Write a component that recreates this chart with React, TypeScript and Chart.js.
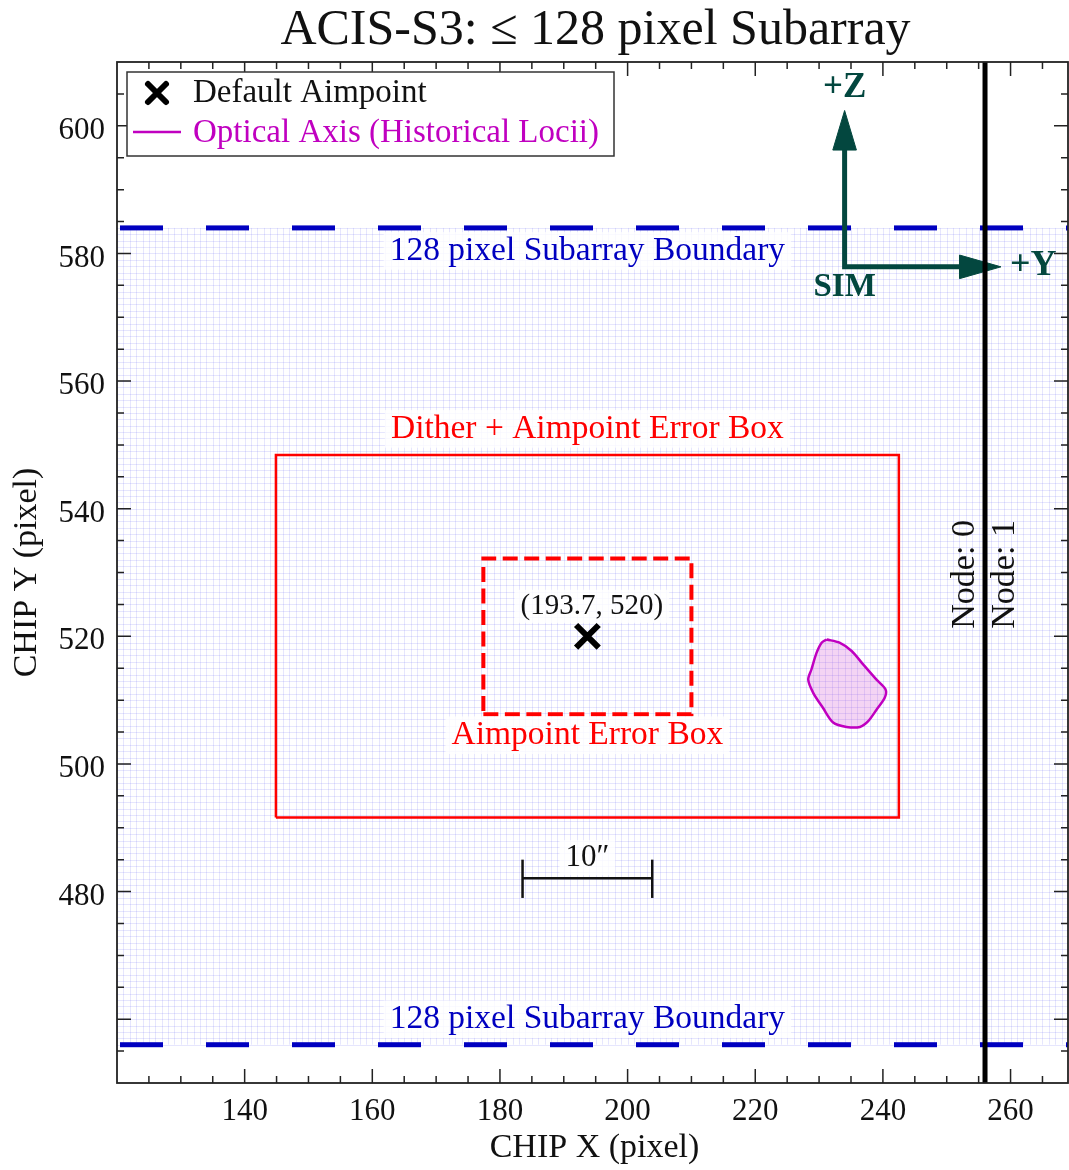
import React, { useEffect, useRef } from 'react';
import { Chart, registerables } from 'chart.js';

Chart.register(...registerables);

// ---------------- data ----------------
const X_MIN = 120;
const X_MAX = 269;
const Y_MIN = 450;
const Y_MAX = 610;
const X_MAJOR_TICKS = [140, 160, 180, 200, 220, 240, 260];
const X_TICK_LABELS = ['140', '160', '180', '200', '220', '240', '260'];
const Y_MAJOR_TICKS = [460, 480, 500, 520, 540, 560, 580, 600];
const Y_TICK_LABELS = ['', '480', '500', '520', '540', '560', '580', '600'];
const MINOR_STEP = 5;

const AIMPOINT_X = [193.7];
const AIMPOINT_Y = [520];
const SUBARRAY_Y = [456, 584];
const NODE_BOUNDARY_X = 256;
const DITHER_BOX_X = [144.9, 242.5];
const DITHER_BOX_Y = [491.6, 548.4];
const AIM_ERR_BOX_X = [177.4, 210.0];
const AIM_ERR_BOX_Y = [507.8, 532.2];
const OPTICAL_AXIS_X = [231.2, 233.2, 235.1, 236.9, 239.0, 240.4, 240.3, 239.0, 237.7, 236.4, 234.3, 232.2, 230.6, 229.1, 228.3, 228.8, 229.6, 230.4];
const OPTICAL_AXIS_Y = [519.5, 519.0, 517.7, 515.6, 513.2, 511.7, 510.4, 508.5, 506.7, 505.8, 505.8, 506.5, 508.8, 511.1, 513.2, 514.8, 517.4, 519.0];
const SCALE_BAR_X = [183.54, 203.86];
const SCALE_BAR_Y = [482.1];
const SCALE_BAR_CAP_Y = [479.0, 485.0];
const SIM_ORIGIN = [234.0, 577.9];
const SIM_Z_HEAD = [596.2, 602.4]; // base, tip (y)
const SIM_Y_HEAD = [252.0, 258.5]; // base, tip (x)
const HEAD_HALF_WIDTH = 1.85;

const TITLE = 'ACIS-S3: \u2264 128 pixel Subarray';
const X_TITLE = 'CHIP X (pixel)';
const Y_TITLE = 'CHIP Y (pixel)';
const LEGEND_LABELS = ['Default Aimpoint', 'Optical Axis (Historical Locii)'];

// ---------------- styles ----------------
const FONT = "'Liberation Serif', 'DejaVu Serif', serif";
const BLUE = '#0000c0';
const RED = '#ff0000';
const MAGENTA = '#c000c0';
const ARROW = '#03473f';
const AXIS_COLOR = '#222222';

const W = 1069;
const H = 1170;

type Pt = { x: number; y: number };
const pts = (xs: number[], ys: number[]): Pt[] => xs.map((x, i) => ({ x, y: ys[i] }));
const closed = (p: Pt[]): Pt[] => [...p, p[0]];
const box = (xs: number[], ys: number[]): Pt[] =>
  closed([
    { x: xs[0], y: ys[0] },
    { x: xs[1], y: ys[0] },
    { x: xs[1], y: ys[1] },
    { x: xs[0], y: ys[1] },
  ]);

function drawText(
  ctx: CanvasRenderingContext2D,
  text: string,
  x: number,
  y: number,
  o: { size: number; color: string; weight?: string; bg?: boolean; rotate?: number; align?: CanvasTextAlign }
) {
  ctx.save();
  ctx.translate(x, y);
  if (o.rotate) ctx.rotate(o.rotate);
  ctx.font = `${o.weight || 'normal'} ${o.size}px ${FONT}`;
  ctx.textAlign = o.align || 'center';
  ctx.textBaseline = 'middle';
  if (o.bg) {
    const w = ctx.measureText(text).width;
    const h = o.size * 1.0;
    const left = o.align === 'left' ? 0 : o.align === 'right' ? -w : -w / 2;
    ctx.fillStyle = 'rgba(255,255,255,0.82)';
    ctx.fillRect(left - 6, -h / 2 - 2, w + 12, h + 4);
  }
  ctx.fillStyle = o.color;
  ctx.fillText(text, 0, 0);
  ctx.restore();
}

const gridPlugin = {
  id: 'pixelGrid',
  beforeDatasetsDraw(chart: any) {
    const { ctx, chartArea: a, scales } = chart;
    const xs = scales.x;
    const ys = scales.y;
    ctx.save();
    ctx.beginPath();
    ctx.rect(a.left, a.top, a.right - a.left, a.bottom - a.top);
    ctx.clip();
    ctx.strokeStyle = 'rgba(100,100,240,0.16)';
    ctx.lineWidth = 1;
    const yTop = ys.getPixelForValue(SUBARRAY_Y[1]);
    const yBot = ys.getPixelForValue(SUBARRAY_Y[0]);
    ctx.beginPath();
    for (let v = Math.ceil(X_MIN); v <= X_MAX; v++) {
      const px = Math.round(xs.getPixelForValue(v)) + 0.5;
      ctx.moveTo(px, yTop);
      ctx.lineTo(px, yBot);
    }
    for (let v = SUBARRAY_Y[0]; v <= SUBARRAY_Y[1]; v++) {
      const py = Math.round(ys.getPixelForValue(v)) + 0.5;
      ctx.moveTo(a.left, py);
      ctx.lineTo(a.right, py);
    }
    ctx.stroke();
    ctx.restore();
  },
};

const decorPlugin = {
  id: 'decor',
  afterDatasetsDraw(chart: any) {
    const { ctx, scales } = chart;
    const xs = scales.x;
    const ys = scales.y;
    const X = (v: number) => xs.getPixelForValue(v);
    const Y = (v: number) => ys.getPixelForValue(v);
    const cx = (DITHER_BOX_X[0] + DITHER_BOX_X[1]) / 2;

    drawText(ctx, '128 pixel Subarray Boundary', X(cx), Y(SUBARRAY_Y[1] - 3.6), { size: 33.5, color: BLUE, bg: true });
    drawText(ctx, '128 pixel Subarray Boundary', X(cx), Y(SUBARRAY_Y[0] + 4.0), { size: 33.5, color: BLUE, bg: true });
    drawText(ctx, 'Dither + Aimpoint Error Box', X(cx), Y(DITHER_BOX_Y[1] + 4.1), { size: 33.5, color: RED, bg: true });
    drawText(ctx, 'Aimpoint Error Box', X(cx), Y(AIM_ERR_BOX_Y[0] - 3.3), { size: 33.5, color: RED, bg: true });
    drawText(ctx, `(${AIMPOINT_X[0]}, ${AIMPOINT_Y[0]})`, X(AIMPOINT_X[0] + 0.7), Y(AIMPOINT_Y[0] + 4.7), { size: 29, color: '#111', bg: true });
    drawText(ctx, '10\u2033', X((SCALE_BAR_X[0] + SCALE_BAR_X[1]) / 2), Y(SCALE_BAR_Y[0] + 3.2), { size: 31, color: '#111', bg: true });

    drawText(ctx, '+Z', X(SIM_ORIGIN[0]), Y(SIM_Z_HEAD[1] + 3.5), { size: 35, color: ARROW, weight: 'bold' });
    drawText(ctx, 'SIM', X(SIM_ORIGIN[0]), Y(SIM_ORIGIN[1] - 3.3), { size: 33, color: ARROW, weight: 'bold' });
    drawText(ctx, '+Y', X(SIM_Y_HEAD[1] + 1.4), Y(SIM_ORIGIN[1] + 0.1), { size: 36, color: ARROW, weight: 'bold', align: 'left' });

    drawText(ctx, 'Node: 0', X(NODE_BOUNDARY_X - 3.05), Y(529.7), { size: 34, color: '#111', rotate: -Math.PI / 2 });
    drawText(ctx, 'Node: 1', X(NODE_BOUNDARY_X + 3.2), Y(529.7), { size: 34, color: '#111', rotate: -Math.PI / 2 });
  },
  afterDraw(chart: any) {
    const { ctx, chartArea: a, scales } = chart;
    const xs = scales.x;
    const ys = scales.y;
    ctx.save();
    // spines
    ctx.strokeStyle = AXIS_COLOR;
    ctx.lineWidth = 1.8;
    ctx.strokeRect(a.left, a.top, a.right - a.left, a.bottom - a.top);
    // ticks
    ctx.lineWidth = 1.5;
    ctx.beginPath();
    for (let v = Math.ceil(X_MIN / MINOR_STEP) * MINOR_STEP; v <= X_MAX; v += MINOR_STEP) {
      if (v <= X_MIN) continue;
      const len = X_MAJOR_TICKS.includes(v) ? 14 : 7;
      const px = xs.getPixelForValue(v);
      ctx.moveTo(px, a.bottom);
      ctx.lineTo(px, a.bottom - len);
      ctx.moveTo(px, a.top);
      ctx.lineTo(px, a.top + len);
    }
    for (let v = Math.ceil(Y_MIN / MINOR_STEP) * MINOR_STEP; v <= Y_MAX; v += MINOR_STEP) {
      if (v <= Y_MIN || v >= Y_MAX) continue;
      const len = Y_MAJOR_TICKS.includes(v) ? 14 : 7;
      const py = ys.getPixelForValue(v);
      ctx.moveTo(a.left, py);
      ctx.lineTo(a.left + len, py);
      ctx.moveTo(a.right, py);
      ctx.lineTo(a.right - len, py);
    }
    ctx.stroke();

    // legend
    const lx = a.left + 10;
    const ly = a.top + 10;
    ctx.fillStyle = '#ffffff';
    ctx.fillRect(lx, ly, 487, 84);
    ctx.strokeStyle = '#333';
    ctx.lineWidth = 1.5;
    ctx.strokeRect(lx, ly, 487, 84);
    // X marker
    const mx = lx + 30;
    const my = ly + 21;
    ctx.strokeStyle = '#000';
    ctx.lineWidth = 6;
    ctx.lineCap = 'round';
    ctx.beginPath();
    ctx.moveTo(mx - 9, my - 9);
    ctx.lineTo(mx + 9, my + 9);
    ctx.moveTo(mx + 9, my - 9);
    ctx.lineTo(mx - 9, my + 9);
    ctx.stroke();
    ctx.lineCap = 'butt';
    drawText(ctx, LEGEND_LABELS[0], lx + 66, ly + 21, { size: 33, color: '#111', align: 'left' });
    ctx.strokeStyle = MAGENTA;
    ctx.lineWidth = 2.5;
    ctx.beginPath();
    ctx.moveTo(lx + 6, ly + 60);
    ctx.lineTo(lx + 54, ly + 60);
    ctx.stroke();
    drawText(ctx, LEGEND_LABELS[1], lx + 66, ly + 61, { size: 33, color: MAGENTA, align: 'left' });

    // title & axis titles
    ctx.font = `50px ${FONT}`;
    ctx.fillStyle = '#111';
    ctx.textAlign = 'center';
    ctx.textBaseline = 'alphabetic';
    ctx.fillText(TITLE, (a.left + a.right) / 2 + 3, 44);
    drawText(ctx, X_TITLE, (a.left + a.right) / 2 + 2, 1148, { size: 34, color: '#111' });
    drawText(ctx, Y_TITLE, 27, (a.top + a.bottom) / 2, { size: 34, color: '#111', rotate: -Math.PI / 2 });
    ctx.restore();
  },
};

function buildConfig(): any {
  const line = (data: Pt[], color: string, width: number, extra: any = {}) => ({
    data,
    showLine: true,
    borderColor: color,
    backgroundColor: color,
    borderWidth: width,
    pointRadius: 0,
    pointHoverRadius: 0,
    tension: 0,
    fill: false,
    ...extra,
  });
  const [ox, oy] = SIM_ORIGIN;
  return {
    type: 'scatter',
    data: {
      datasets: [
        line([{ x: NODE_BOUNDARY_X, y: Y_MIN }, { x: NODE_BOUNDARY_X, y: Y_MAX }], '#000', 5, { order: 1 }),
        {
          data: pts(AIMPOINT_X, AIMPOINT_Y),
          pointStyle: 'crossRot',
          pointRadius: 16,
          pointHoverRadius: 16,
          pointBorderWidth: 6,
          borderColor: '#000',
          backgroundColor: '#000',
          order: 0,
        },
        line(pts([ox, ox, SIM_Y_HEAD[0]], [SIM_Z_HEAD[0], oy, oy]), ARROW, 5, { order: 3, borderJoinStyle: 'miter' }),
        line(
          closed([
            { x: ox - HEAD_HALF_WIDTH, y: SIM_Z_HEAD[0] },
            { x: ox, y: SIM_Z_HEAD[1] },
            { x: ox + HEAD_HALF_WIDTH, y: SIM_Z_HEAD[0] },
          ]),
          ARROW,
          1,
          { order: 3, fill: 'shape' }
        ),
        line(
          closed([
            { x: SIM_Y_HEAD[0], y: oy + HEAD_HALF_WIDTH },
            { x: SIM_Y_HEAD[1], y: oy },
            { x: SIM_Y_HEAD[0], y: oy - HEAD_HALF_WIDTH },
          ]),
          ARROW,
          1,
          { order: 3, fill: 'shape' }
        ),
        line(pts(SCALE_BAR_X, [SCALE_BAR_Y[0], SCALE_BAR_Y[0]]), '#111', 2.5, { order: 4 }),
        line(pts([SCALE_BAR_X[0], SCALE_BAR_X[0]], SCALE_BAR_CAP_Y), '#111', 2.5, { order: 4 }),
        line(pts([SCALE_BAR_X[1], SCALE_BAR_X[1]], SCALE_BAR_CAP_Y), '#111', 2.5, { order: 4 }),
        line(closed(pts(OPTICAL_AXIS_X, OPTICAL_AXIS_Y)), MAGENTA, 2.5, {
          order: 5,
          fill: 'shape',
          backgroundColor: 'rgba(192,0,192,0.17)',
          tension: 0.3,
        }),
        line(box(AIM_ERR_BOX_X, AIM_ERR_BOX_Y), RED, 4, { order: 6, borderDash: [15, 6.5] }),
        line(box(DITHER_BOX_X, DITHER_BOX_Y), RED, 2.5, { order: 7 }),
        line([{ x: X_MIN, y: SUBARRAY_Y[1] }, { x: X_MAX, y: SUBARRAY_Y[1] }], BLUE, 5, {
          order: 8,
          borderDash: [43, 43],
          borderDashOffset: -3,
        }),
        line([{ x: X_MIN, y: SUBARRAY_Y[0] }, { x: X_MAX, y: SUBARRAY_Y[0] }], BLUE, 5, {
          order: 8,
          borderDash: [43, 43],
          borderDashOffset: -3,
        }),
      ],
    },
    options: {
      responsive: false,
      animation: false,
      devicePixelRatio: 1,
      events: [],
      layout: { autoPadding: false, padding: { top: 62, right: 1, left: 0, bottom: 0 } },
      plugins: { legend: { display: false }, tooltip: { enabled: false }, title: { display: false } },
      scales: {
        x: {
          type: 'linear',
          min: X_MIN,
          max: X_MAX,
          grid: { display: false, drawTicks: false },
          border: { display: false },
          afterBuildTicks: (s: any) => {
            s.ticks = X_MAJOR_TICKS.map((v) => ({ value: v }));
          },
          afterFit: (s: any) => {
            s.height = H - 1083;
            s.paddingLeft = 0;
            s.paddingRight = 0;
          },
          ticks: {
            autoSkip: false,
            maxRotation: 0,
            padding: 10,
            color: '#111',
            font: { family: FONT, size: 31 },
            callback: (v: number) => X_TICK_LABELS[X_MAJOR_TICKS.indexOf(v)] ?? '',
          },
        },
        y: {
          type: 'linear',
          min: Y_MIN,
          max: Y_MAX,
          grid: { display: false, drawTicks: false },
          border: { display: false },
          afterBuildTicks: (s: any) => {
            s.ticks = Y_MAJOR_TICKS.map((v) => ({ value: v }));
          },
          afterFit: (s: any) => {
            s.width = 117;
            s.paddingTop = 0;
            s.paddingBottom = 0;
          },
          ticks: {
            autoSkip: false,
            padding: 12,
            labelOffset: 5,
            color: '#111',
            font: { family: FONT, size: 31 },
            callback: (v: number) => Y_TICK_LABELS[Y_MAJOR_TICKS.indexOf(v)] ?? '',
          },
        },
      },
    },
    plugins: [gridPlugin, decorPlugin],
  };
}

export default function App() {
  const ref = useRef<HTMLCanvasElement>(null);
  useEffect(() => {
    document.body.style.margin = '0';
    const chart = new Chart(ref.current as HTMLCanvasElement, buildConfig());
    return () => chart.destroy();
  }, []);
  return (
    <div style={{ width: W, height: H }}>
      <canvas ref={ref} width={W} height={H} style={{ display: 'block', width: W, height: H }} />
    </div>
  );
}
